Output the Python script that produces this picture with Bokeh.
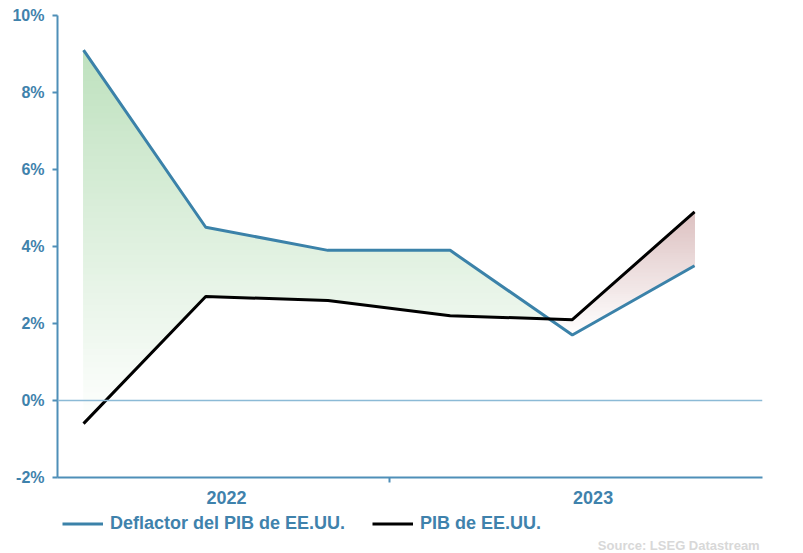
import numpy as np
from bokeh.plotting import figure
from bokeh.layouts import column
from bokeh.models import (Range1d, FixedTicker, Span, Legend, LegendItem, Label)
from bokeh.embed import file_html
from bokeh.resources import INLINE

# ---- data ----
quarters = ["T2 2022", "T3 2022", "T4 2022", "T1 2023", "T2 2023", "T3 2023"]
deflator = [9.1, 4.5, 3.9, 3.9, 1.7, 3.5]      # Deflactor del PIB de EE.UU. (%)
gdp = [-0.6, 2.7, 2.6, 2.2, 2.1, 4.9]          # PIB de EE.UU. (%)
y_ticks = [-2, 0, 2, 4, 6, 8, 10]
year_labels = ["2022", "2023"]
year_label_pos = [1.17, 4.17]
year_sep = [2.5]
series_names = ["Deflactor del PIB de EE.UU.", "PIB de EE.UU."]

x = np.arange(len(quarters), dtype=float)
d_arr = np.array(deflator)
g_arr = np.array(gdp)

BLUE = "#3b82a9"
AXIS = "#4f8fb8"
LABEL = "#3f82ac"

p = figure(width=803, height=513, output_backend="svg", toolbar_location=None,
           x_range=Range1d(-0.213, 5.556), y_range=Range1d(-2, 10),
           min_border_left=57, min_border_top=15, min_border_right=41,
           min_border_bottom=36)
p.outline_line_color = None
p.grid.visible = False

# ---- gradient fills between the lines (stacked horizontal bands) ----
xf = np.linspace(x[0], x[-1], 1201)
df = np.interp(xf, x, d_arr)
gf = np.interp(xf, x, g_arr)

def gradient_fill(lo, hi, top_rgb, n=60):
    mask = hi > lo
    top = hi[mask].max()
    bot = lo[mask].min()
    edges = np.linspace(bot, top, n + 1)
    hi2 = np.maximum(hi, lo)
    for i in range(n):
        a = edges[i]
        t = (a + 0.5 * (edges[1] - edges[0]) - bot) / (top - bot)
        col = tuple(int(round(255 - t * (255 - c))) for c in top_rgb)
        y1 = np.clip(lo, a, top)
        y2 = np.clip(hi2, a, top)
        p.varea(x=xf, y1=y1, y2=y2, fill_color="#%02x%02x%02x" % col, fill_alpha=1.0)

gradient_fill(gf, df, (190, 225, 190))   # deflactor above PIB: green
gradient_fill(df, gf, (220, 192, 192))   # PIB above deflactor: red

# zero line
p.add_layout(Span(location=0, dimension="width", line_color="#8cbad6", line_width=1.5))

p.line(x, d_arr, line_color=BLUE, line_width=3)
p.line(x, g_arr, line_color="black", line_width=3)

# ---- axes ----
p.yaxis.ticker = FixedTicker(ticks=y_ticks)
p.yaxis.major_label_overrides = {v: f"{v}%" for v in y_ticks}
p.yaxis.major_tick_in = 0
p.yaxis.major_tick_out = 5
p.yaxis.minor_tick_line_color = None
p.yaxis.axis_line_color = AXIS
p.yaxis.axis_line_width = 2
p.yaxis.major_tick_line_color = AXIS
p.yaxis.major_tick_line_width = 2
p.yaxis.major_label_text_font = "Liberation Sans"
p.yaxis.major_label_text_font_style = "bold"
p.yaxis.major_label_text_font_size = "16px"
p.yaxis.major_label_text_color = LABEL
p.yaxis.major_label_standoff = 8

p.xaxis.ticker = FixedTicker(ticks=year_label_pos, minor_ticks=year_sep)
p.xaxis.major_label_overrides = {v: s for v, s in zip(year_label_pos, year_labels)}
p.xaxis.major_tick_line_color = None
p.xaxis.major_tick_out = 0
p.xaxis.major_tick_in = 0
p.xaxis.minor_tick_in = 0
p.xaxis.minor_tick_out = 5
p.xaxis.minor_tick_line_color = AXIS
p.xaxis.minor_tick_line_width = 2
p.xaxis.axis_line_color = AXIS
p.xaxis.axis_line_width = 2
p.xaxis.major_label_text_font = "Liberation Sans"
p.xaxis.major_label_text_font_style = "bold"
p.xaxis.major_label_text_font_size = "18px"
p.xaxis.major_label_text_color = LABEL
p.xaxis.major_label_standoff = 8

# ---- strip below: legend + source ----
q = figure(width=803, height=40, output_backend="svg", toolbar_location=None,
           x_range=Range1d(57, 803), y_range=Range1d(40, 0),
           x_axis_location=None, y_axis_location=None,
           min_border=0, min_border_left=57, min_border_right=0,
           min_border_top=0, min_border_bottom=0)
q.outline_line_color = None
q.grid.visible = False
q.background_fill_color = None
q.border_fill_color = None

# legend proxies (no visible marks)
l_def = q.line([np.nan], [np.nan], line_color=BLUE, line_width=3)
l_gdp = q.line([np.nan], [np.nan], line_color="black", line_width=3)

legend = Legend(items=[LegendItem(label=series_names[0], renderers=[l_def]),
                       LegendItem(label=series_names[1], renderers=[l_gdp])],
                orientation="horizontal", location=(5, 19),
                border_line_color=None, background_fill_alpha=0,
                glyph_width=41, glyph_height=21, label_height=21,
                label_standoff=7, spacing=27,
                padding=0, margin=0,
                label_text_font="Liberation Sans", label_text_font_style="bold",
                label_text_font_size="18px", label_text_color=LABEL)
q.add_layout(legend, "center")

src = Label(x=800, y=32, text="Source: LSEG Datastream",
            text_align="right", text_baseline="middle",
            text_font="Liberation Sans", text_font_style="bold",
            text_font_size="13px", text_color="#d8d8d8")
q.add_layout(src)

open("out.html", "w").write(file_html(column(p, q, spacing=0), INLINE))
